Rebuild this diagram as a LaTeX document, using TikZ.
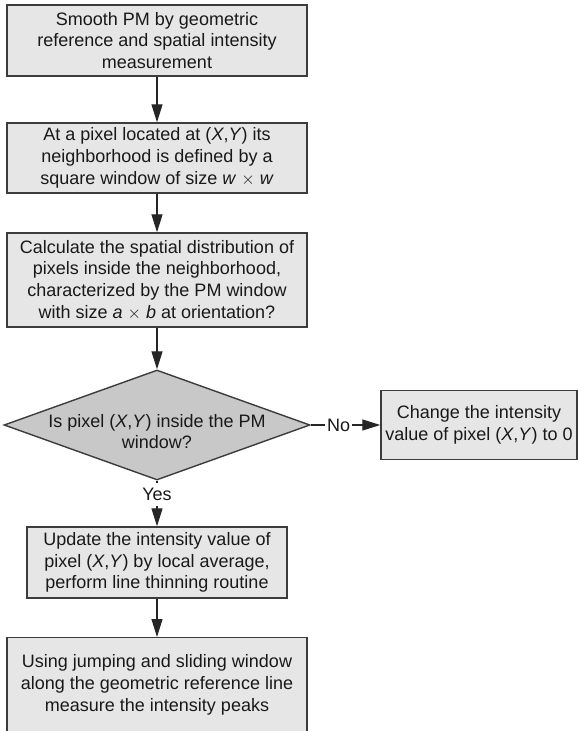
\documentclass[tikz,border=0pt]{standalone}
\usepackage{fontspec}
\setmainfont{Liberation Sans}
\usetikzlibrary{shapes.geometric,arrows.meta}
\definecolor{boxgray}{HTML}{E6E6E6}
\definecolor{diagray}{HTML}{C8C8C8}
\definecolor{edgegray}{HTML}{3C3C3C}
\newcommand{\pxy}{(\textit{X},\textit{Y}\/)}

\begin{document}
\begin{tikzpicture}[x=1pt,y=1pt]
\tikzstyle{every node}+=[inner sep=0pt, font=\fontsize{18}{21.7}\selectfont, text=black!90]
\tikzstyle{box}=[draw=edgegray, fill=boxgray, line width=1.4pt, align=center]
\tikzstyle{decision}=[box, diamond, fill=diagray, shape aspect=2.78]
\tikzstyle{flow}=[draw=black!85, line width=1.2pt, -{Triangle[length=18pt,width=11pt]}]
\useasboundingbox (0,0) rectangle (579,-731);
\node [box, minimum width=300, minimum height=71] (smooth) at (157,-40.5) {Smooth PM by geometric\\reference and spatial intensity\\measurement};
\node [box, minimum width=300, minimum height=70] (neigh) at (157,-158) {At a pixel located at \pxy{} its\\neighborhood is defined by a\\square window of size \textit{w} $\times$ \textit{w}};
\node [box, minimum width=300, minimum height=94] (calc) at (157,-280) {Calculate the spatial distribution of\\pixels inside the neighborhood,\\characterized by the PM window\\with size \textit{a} $\times$ \textit{b} at orientation?};
\node [decision, minimum width=306, minimum height=110] (inside) at (157,-425) {\raisebox{-13pt}[0pt][0pt]{\begin{tabular}{@{}c@{}}Is pixel \pxy{} inside the PM\\window?\end{tabular}}};
\node [box, minimum width=196, minimum height=69] (change) at (479,-425) {Change the intensity\\value of pixel \pxy{} to 0};
\node [box, minimum width=260, minimum height=71] (update) at (157,-562.5) {Update the intensity value of\\pixel \pxy{} by local average,\\perform line thinning routine};
\node [box, minimum width=300, anchor=north, inner ysep=17pt, text depth=21pt] (peaks) at (157,-637) {Using jumping and sliding window\\along the geometric reference line\\measure the intensity peaks};
\draw [flow] (smooth) -- (neigh);
\draw [flow] (neigh) -- (calc);
\draw [flow] (calc) -- (inside);
\draw [flow] (inside.east) -- node [pos=0.4, fill=white, inner xsep=2pt] {No} (change.west);
\draw [flow] (inside.south) -- node [pos=0.3, fill=white, inner ysep=5pt] {Yes} (update.north);
\draw [flow] (update) -- (peaks);
\end{tikzpicture}
\end{document}
